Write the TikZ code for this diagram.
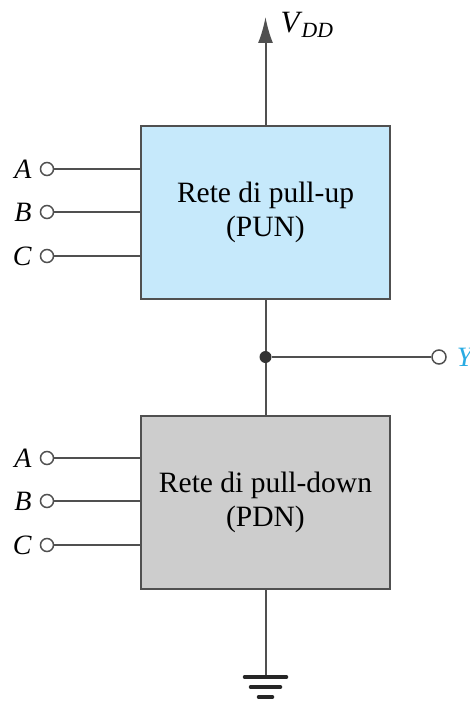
\documentclass[tikz,border=0pt]{standalone}
\usepackage{xcolor}
\usepackage{fontspec}
\setmainfont{Liberation Serif}
\usepackage{tikz}
\usetikzlibrary{arrows.meta,positioning}
\definecolor{punblue}{HTML}{C6E9FB}
\definecolor{pdngray}{HTML}{CDCDCD}
\definecolor{wiregray}{HTML}{505050}
\definecolor{outblue}{HTML}{29ABE2}

\begin{document}
\begin{tikzpicture}[
  x=1pt, y=-1pt,
  font=\fontsize{29.5}{34.5}\selectfont,
  wire/.style={draw=wiregray, line width=2pt},
  net/.style={
    rectangle,
    draw=wiregray,
    line width=1.7pt,
    minimum width=249pt,
    minimum height=173pt,
    align=center,
    inner sep=0pt
  },
  pin/.style={
    circle,
    draw=wiregray,
    line width=1.5pt,
    fill=white,
    minimum size=13pt,
    inner sep=0pt
  },
  pinlabel/.style={font=\fontsize{28}{32}\selectfont\itshape, inner sep=0pt},
  rail/.style={draw=black!85, line width=3.5pt, line cap=round}
]
  \useasboundingbox (0,0) rectangle (469,701);

  \node [net, fill=punblue] (PUN) at (265.5,212.5) {Rete di pull-up\\(PUN)};
  \node [net, fill=pdngray, below=115pt of PUN] (PDN) {Rete di pull-down\\(PDN)};

  % inputs of both networks
  \foreach \net/\top in {PUN/169, PDN/458} {
    \foreach \name/\dy in {A/0, B/43, C/87} {
      \node [pin] (\net\name) at (47,\top+\dy) {};
      \node [pinlabel, left=8pt of \net\name] (\net\name txt) {\name};
      \draw [wire] (\net\name) -- (\net\name -| PUN.west);
    }
  }

  % supply
  \coordinate (vdd) at (265.5,17);
  \draw [wire, -{Latex[length=26pt,width=15pt]}] (PUN.north) -- (vdd);
  \node [right=15pt of vdd, yshift=-8pt, inner sep=0pt, anchor=west, font=\fontsize{31}{34}\selectfont] (vddtxt) {\textit{V}\kern-1pt\textsubscript{\textit{DD}}};

  % output
  \draw [wire] (PUN.south) -- (PDN.north);
  \node [circle, fill=black!80, minimum size=12pt, inner sep=0pt] (out) at (265.5,357) {};
  \node [pin, minimum size=14pt] (outpin) at (439,357) {};
  \node [right=10pt of outpin, inner sep=0pt, text=outblue, font=\fontsize{28}{32}\selectfont\itshape] (outtxt) {Y};
  \draw [wire] (out) -- (outpin);

  % ground
  \coordinate (gnd) at (265.5,677);
  \coordinate (gndb) at (265.5,687);
  \coordinate (gndc) at (265.5,697);
  \draw [wire] (PDN.south) -- (gnd);
  \draw [rail] ([xshift=-21pt]gnd) -- ([xshift=21pt]gnd);
  \draw [rail] ([xshift=-15pt]gndb) -- ([xshift=15pt]gndb);
  \draw [rail] ([xshift=-7pt]gndc) -- ([xshift=7pt]gndc);
\end{tikzpicture}
\end{document}
